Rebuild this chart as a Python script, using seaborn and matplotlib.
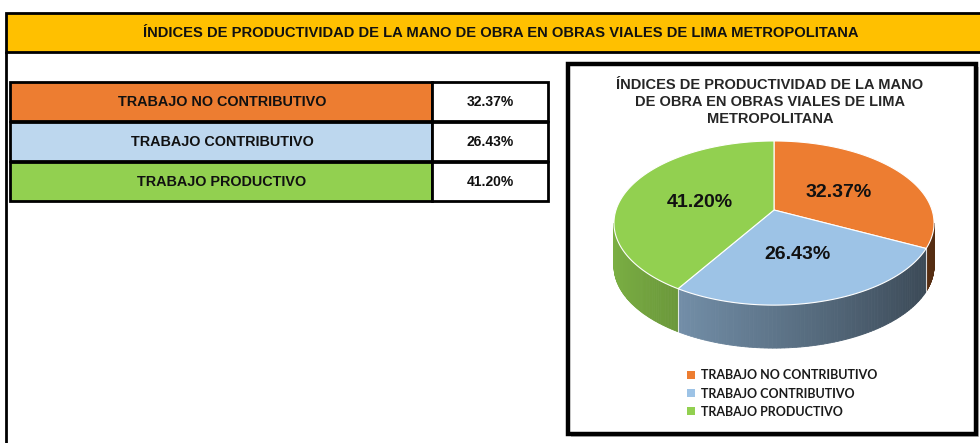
import numpy as np
import seaborn as sns
import matplotlib.pyplot as plt
from matplotlib.patches import Rectangle, Polygon, Patch
from matplotlib import font_manager

# data
categories = ["TRABAJO NO CONTRIBUTIVO", "TRABAJO CONTRIBUTIVO", "TRABAJO PRODUCTIVO"]
values = [32.37, 26.43, 41.20]
value_labels = ["32.37%", "26.43%", "41.20%"]
title = "ÍNDICES DE PRODUCTIVIDAD DE LA MANO DE OBRA EN OBRAS VIALES DE LIMA METROPOLITANA"
chart_title = "ÍNDICES DE PRODUCTIVIDAD DE LA MANO\nDE OBRA EN OBRAS VIALES DE LIMA\nMETROPOLITANA"

table_colors = sns.color_palette(["#ED7D31", "#BDD7EE", "#92D050"])
pie_colors = sns.color_palette(["#ED7D31", "#9DC3E6", "#92D050"])

sns.set_style("white")
names = {f.name for f in font_manager.fontManager.ttflist}
legend_font = "Lato" if "Lato" in names else "DejaVu Sans"
plt.rcParams["font.family"] = ["Liberation Sans", "DejaVu Sans"]

fig = plt.figure(figsize=(9.8, 4.43), dpi=100)
ax = fig.add_axes([0, 0, 1, 1])
ax.set_xlim(0, 980)
ax.set_ylim(443, 0)
ax.axis("off")

# title bar
ax.add_patch(Rectangle((6, 13), 990, 39, facecolor="#FFC000", edgecolor="black", lw=2))
ax.plot([6, 6], [52, 443], color="black", lw=2)
ax.text(501, 33, title, ha="center", va="center", fontsize=10.6, fontweight="bold", color="#111111")

# table
row_top = [82, 122, 162]
for i, (cat, lab) in enumerate(zip(categories, value_labels)):
    y0 = row_top[i]
    ax.add_patch(Rectangle((10, y0), 422, 39, facecolor=table_colors[i], edgecolor="black", lw=2))
    ax.add_patch(Rectangle((432, y0), 116, 39, facecolor="white", edgecolor="black", lw=2))
    ax.text(222, y0 + 20, cat, ha="center", va="center", fontsize=10.4, fontweight="bold", color="#111111")
    ax.text(490, y0 + 20, lab, ha="center", va="center", fontsize=10, fontweight="bold", color="#111111")

# chart box
ax.add_patch(Rectangle((571, 67), 408, 370, facecolor="#BFBFBF", edgecolor="none"))
ax.add_patch(Rectangle((568, 64), 408, 370, facecolor="white", edgecolor="black", lw=3.2))
ax.text(770, 102, chart_title, ha="center", va="center", fontsize=10.5,
        fontweight="bold", color="#262626", linespacing=1.25)

# 3d pie with a bit of perspective
cx, cy, rx, ry, k, depth = 774, 210, 158, 80, 0.159, 43


def top_xy(theta, r=1.0):
    u, v = r * np.cos(theta), r * np.sin(theta)
    w = 1 + k * v
    return cx + rx * u / w, cy - ry * v / w


fracs = np.array(values) / np.sum(values)
starts = np.pi / 2 - 2 * np.pi * np.concatenate([[0], np.cumsum(fracs)[:-1]])
ends = starts - 2 * np.pi * fracs

# visible rim between the two silhouette points
t_right = -np.arcsin(k)
t_left = -np.pi + np.arcsin(k)

for i in range(len(values)):
    base = np.array(pie_colors[i])
    for shift in [0, -2 * np.pi, 2 * np.pi]:
        lo, hi = max(ends[i], t_left + shift), min(starts[i], t_right + shift)
        if hi <= lo:
            continue
        th = np.linspace(lo, hi, 80)
        for a, b in zip(th[:-1], th[1:]):
            xa, ya = top_xy(a)
            xb, yb = top_xy(b)
            f = 0.60 - 0.25 * np.cos((a + b) / 2)
            col = np.clip(base * f, 0, 1)
            ax.add_patch(Polygon([(xa, ya), (xb, yb), (xb, yb + depth), (xa, ya + depth)],
                                 closed=True, facecolor=col, edgecolor=col, lw=0.6))
for t in starts:
    if t_left < (t + np.pi) % (2 * np.pi) - np.pi < t_right:
        x, y = top_xy(t)
        ax.plot([x, x], [y, y + depth], color="white", lw=0.8, alpha=0.8)

# top face
for i in range(len(values)):
    th = np.linspace(starts[i], ends[i], 200)
    xs, ys = top_xy(th)
    pts = [(cx, cy)] + list(zip(xs, ys))
    ax.add_patch(Polygon(pts, closed=True, facecolor=pie_colors[i], edgecolor="white", lw=0.8))
    mx, my = top_xy((starts[i] + ends[i]) / 2, 0.5)
    ax.text(mx, my + 3, value_labels[i], ha="center", va="center", fontsize=14,
            fontweight="bold", color="#111111")

# legend
handles = [Patch(facecolor=c, edgecolor="none") for c in pie_colors]
ax.legend(handles, categories, loc="upper left", bbox_to_anchor=(681, 363),
          bbox_transform=ax.transData, frameon=False, borderpad=0,
          handlelength=0.6, handleheight=0.6, handletextpad=0.5, labelspacing=0.5,
          prop=dict(family=legend_font, weight="bold", size=9), labelcolor="#1a1a1a")

fig.savefig("out.png", dpi=100)
